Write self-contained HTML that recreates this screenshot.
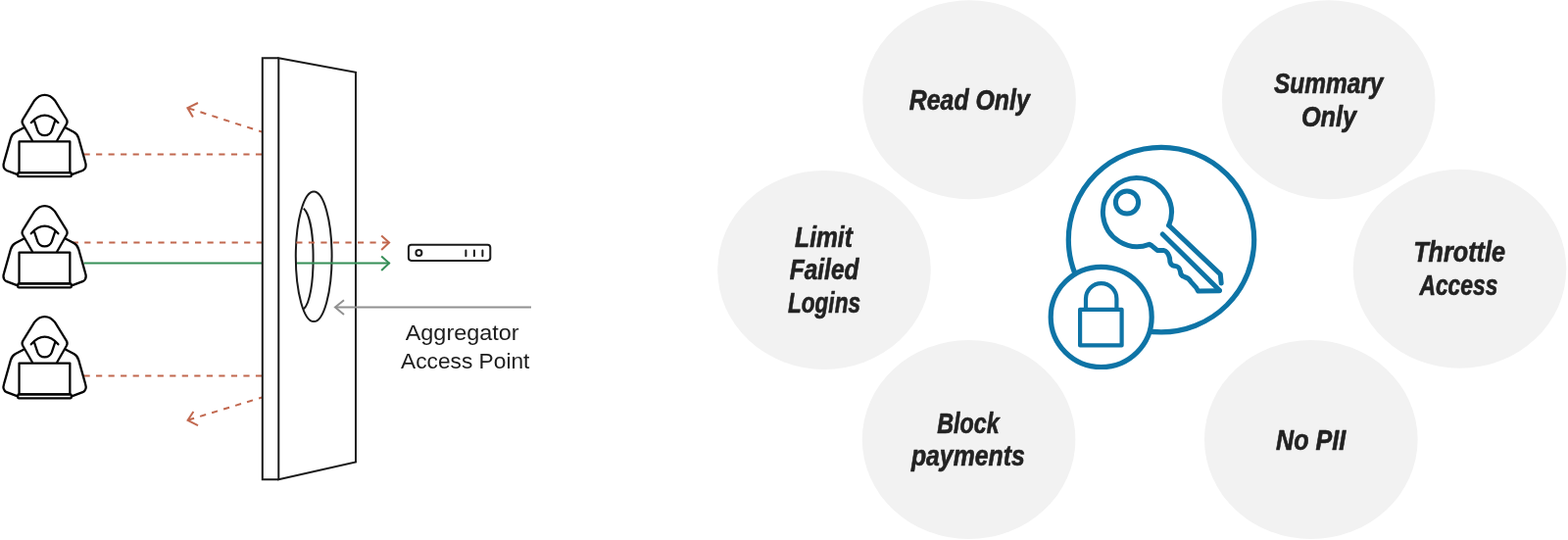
<!DOCTYPE html>
<html lang="en">
<head>
<meta charset="utf-8">
<title>Aggregator Access Point</title>
<style>
html,body{margin:0;padding:0;background:#fff;}
body{width:1600px;height:551px;overflow:hidden;position:relative;}
svg{display:block;position:absolute;left:0;top:0;will-change:transform;}
.lbl{font-family:"Liberation Sans",sans-serif;font-weight:700;font-style:italic;font-size:28.8px;fill:#222;stroke:#222;stroke-width:0.6px;stroke-linejoin:round;}
.agg{font-family:"Liberation Sans",sans-serif;font-weight:400;font-size:22px;fill:#1c1c1c;}
</style>
</head>
<body>
<svg width="1600" height="551" viewBox="0 0 1600 551">

  <!-- left diagram -->
  <g fill="none" stroke="#c1684f" stroke-width="2">
    <path d="M85.5,157.4 H267.5" stroke-dasharray="6.2 6.33" stroke-dashoffset="0"/>
    <path d="M73.7,247.6 H267.5" stroke-dasharray="6.2 6.33"/>
    <path d="M85.5,383.4 H267.5" stroke-dasharray="6.2 6.33"/>
    <path d="M267.5,134.6 L191.6,110.2" stroke-dasharray="6.2 6.33" stroke-dashoffset="2.6"/>
    <path d="M267.5,405.5 L192,428.6" stroke-dasharray="6.2 6.33" stroke-dashoffset="2.6"/>
    <path d="M202,105 L191.4,110.1 L196.9,119.5"/>
    <path d="M197.4,420 L191.6,428.8 L202,434.2"/>
  </g>
  <path d="M85.5,268.5 H267.5" fill="none" stroke="#378f58" stroke-width="2"/>

  <g transform="translate(0.4,90.3) scale(0.18149)" fill="none" stroke="#050505" stroke-width="12.5" stroke-linejoin="round" stroke-linecap="round">
    <!-- body -->
    <path d="M130,222 L85,245 Q65,256 58,280 L20,415 C12,440 18,452 35,461 L97,484"/>
    <path d="M368,222 L413,245 Q433,256 440,280 L478,415 C486,440 480,452 463,461 L401,484"/>
    <!-- hood -->
    <path d="M179,292 L126,200 Q118,186 127,172 L192,67 Q216,36 249,36 Q282,36 306,67 L371,172 Q380,186 372,200 L319,292"/>
    <!-- face -->
    <path d="M173,192 Q210,150 249,150 Q288,150 325,192"/>
    <path d="M190,180 L209,236 Q220,264 249,264 Q278,264 289,236 L308,180"/>
    <!-- laptop -->
    <rect x="105.5" y="298" width="285.5" height="175"/>
    <rect x="98" y="473" width="301" height="22" rx="6"/>
  </g>
  <g transform="translate(0.4,203.5) scale(0.18149)" fill="none" stroke="#050505" stroke-width="12.5" stroke-linejoin="round" stroke-linecap="round">
    <!-- body -->
    <path d="M130,222 L85,245 Q65,256 58,280 L20,415 C12,440 18,452 35,461 L97,484"/>
    <path d="M368,222 L413,245 Q433,256 440,280 L478,415 C486,440 480,452 463,461 L401,484"/>
    <!-- hood -->
    <path d="M179,292 L126,200 Q118,186 127,172 L192,67 Q216,36 249,36 Q282,36 306,67 L371,172 Q380,186 372,200 L319,292"/>
    <!-- face -->
    <path d="M173,192 Q210,150 249,150 Q288,150 325,192"/>
    <path d="M190,180 L209,236 Q220,264 249,264 Q278,264 289,236 L308,180"/>
    <!-- laptop -->
    <rect x="105.5" y="298" width="285.5" height="175"/>
    <rect x="98" y="473" width="301" height="22" rx="6"/>
  </g>
  <g transform="translate(0.4,316.5) scale(0.18149)" fill="none" stroke="#050505" stroke-width="12.5" stroke-linejoin="round" stroke-linecap="round">
    <!-- body -->
    <path d="M130,222 L85,245 Q65,256 58,280 L20,415 C12,440 18,452 35,461 L97,484"/>
    <path d="M368,222 L413,245 Q433,256 440,280 L478,415 C486,440 480,452 463,461 L401,484"/>
    <!-- hood -->
    <path d="M179,292 L126,200 Q118,186 127,172 L192,67 Q216,36 249,36 Q282,36 306,67 L371,172 Q380,186 372,200 L319,292"/>
    <!-- face -->
    <path d="M173,192 Q210,150 249,150 Q288,150 325,192"/>
    <path d="M190,180 L209,236 Q220,264 249,264 Q278,264 289,236 L308,180"/>
    <!-- laptop -->
    <rect x="105.5" y="298" width="285.5" height="175"/>
    <rect x="98" y="473" width="301" height="22" rx="6"/>
  </g>

  <!-- wall -->
  <g fill="none" stroke="#1a1a1a" stroke-width="2" stroke-linejoin="miter">
    <path d="M284.3,59.3 H267.8 V489.3 H284.3"/>
    <path d="M284.3,59.3 L363,73.8 V471.5 L284.3,489.3 Z"/>
    <ellipse cx="320.2" cy="261.8" rx="18.4" ry="66.3"/>
    <path d="M309.8,212.6 C316.5,219 319.6,240 319.6,263.5 C319.6,287 316.5,309 310,315.2"/>
  </g>
  <g fill="none" stroke-width="2">
    <path d="M302.3,247.6 H396.5" stroke="#c1684f" stroke-dasharray="6.2 6.33"/>
    <path d="M389.2,240.5 L397.1,247.6 L389.2,255" stroke="#c1684f"/>
    <path d="M303,268.5 H397.5" stroke="#378f58"/>
    <path d="M389.2,261.5 L397.1,268.5 L389.2,276" stroke="#378f58"/>
    <path d="M542,313.5 H342" stroke="#919191"/>
    <path d="M351,306.2 L342,313.5 L351,321" stroke="#919191"/>
  </g>
  <!-- server -->
  <g fill="none" stroke="#1a1a1a" stroke-width="2">
    <rect x="416.9" y="249.8" width="83.4" height="16.1" rx="2.8"/>
    <circle cx="427.4" cy="258" r="3"/>
    <path d="M475.4,255.4 V261.2 M483.9,255.4 V261.2 M492.4,255.4 V261.2" stroke-linecap="round"/>
  </g>
  <text class="agg" x="413.7" y="346.7" textLength="116" lengthAdjust="spacingAndGlyphs">Aggregator</text>
  <text class="agg" x="409.1" y="375.9" textLength="131.3" lengthAdjust="spacingAndGlyphs">Access Point</text>

  <!-- right diagram: grey bubbles -->
  <g fill="#f2f2f2">
    <ellipse cx="989.1" cy="101.8" rx="108.8" ry="101.5"/>
    <ellipse cx="1355.7" cy="101.8" rx="108.8" ry="101.5"/>
    <ellipse cx="841" cy="275.4" rx="108.8" ry="101.5"/>
    <ellipse cx="1489.5" cy="274.3" rx="108.8" ry="101.5"/>
    <ellipse cx="988.6" cy="448.5" rx="108.8" ry="101.5"/>
    <ellipse cx="1337.8" cy="448.5" rx="108.8" ry="101.5"/>
  </g>
  <text class="lbl" x="927.8" y="111.5" textLength="123" lengthAdjust="spacingAndGlyphs">Read Only</text>
  <text class="lbl" x="1299.9" y="95.2" textLength="111.5" lengthAdjust="spacingAndGlyphs">Summary</text>
  <text class="lbl" x="1327.9" y="128.6" textLength="56.3" lengthAdjust="spacingAndGlyphs">Only</text>
  <text class="lbl" x="811.1" y="251.6" textLength="58.8" lengthAdjust="spacingAndGlyphs">Limit</text>
  <text class="lbl" x="805.7" y="285.4" textLength="70.8" lengthAdjust="spacingAndGlyphs">Failed</text>
  <text class="lbl" x="804" y="318.7" textLength="74" lengthAdjust="spacingAndGlyphs">Logins</text>
  <text class="lbl" x="1442.2" y="267.2" textLength="93.8" lengthAdjust="spacingAndGlyphs">Throttle</text>
  <text class="lbl" x="1448.4" y="300.9" textLength="80" lengthAdjust="spacingAndGlyphs">Access</text>
  <text class="lbl" x="956.2" y="441.8" textLength="63.4" lengthAdjust="spacingAndGlyphs">Block</text>
  <text class="lbl" x="929.9" y="474.5" textLength="115.9" lengthAdjust="spacingAndGlyphs">payments</text>
  <text class="lbl" x="1302.1" y="458.7" textLength="71.1" lengthAdjust="spacingAndGlyphs">No PII</text>

  <!-- key + lock icon -->
  <g fill="none" stroke="#0e74a6" stroke-width="5.2" stroke-linecap="round" stroke-linejoin="round">
    <ellipse cx="1185" cy="244.6" rx="94.7" ry="94.3" fill="#fff"/>
    <!-- key -->
    <g stroke-width="5">
      <circle cx="1150" cy="206.5" r="11.6"/>
      <path d="M1192.7,230 A35,35 0 1 0 1172.7,249.3 L1175.4,250.8 L1180.9,255.4 L1187.2,255.4 C1190.5,256 1192,258 1193.6,263.5 C1193.5,268 1195,270.5 1198.1,271.3 C1202,271.5 1203.6,272.6 1204.5,277.2 C1204.5,280 1206.3,281.7 1208.5,282.5 C1212,283.5 1214,285 1215.5,288 C1218,290.5 1220.8,292.6 1222.6,297.1 L1244.4,296.8"/>
      <path d="M1192.7,230 L1245.3,279.9 L1246.2,289"/>
      <path d="M1186.3,239 L1244.4,296.2"/>
    </g>
    <!-- lock -->
    <ellipse cx="1123.7" cy="323.4" rx="51.5" ry="51.1" fill="#fff"/>
    <g stroke-width="4.2">
      <rect x="1102.1" y="315.8" width="42.5" height="36.6"/>
      <path d="M1108,315.8 V304.8 A15.7,15.7 0 0 1 1139.4,304.8 V315.8"/>
    </g>
  </g>
</svg>
</body>
</html>
